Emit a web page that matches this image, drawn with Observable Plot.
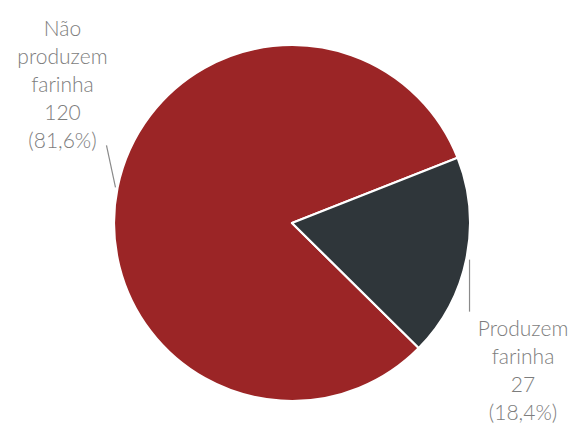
<!DOCTYPE html>
<html><head><meta charset="utf-8">
<script src="https://cdn.jsdelivr.net/npm/d3@7"></script>
<script src="https://cdn.jsdelivr.net/npm/@observablehq/plot@0.6"></script>
<style>
html,body{margin:0;padding:0;background:#fff;}
</style></head><body><div id="chart"></div>
<script>
// ---- data ----
const categories = ["Não produzem farinha", "Produzem farinha"];
const labelLines = [["Não", "produzem", "farinha"], ["Produzem", "farinha"]];
const counts = [120, 27];
const percentLabels = ["81,6%", "18,4%"];
const colors = ["#9b2526", "#2f363a"];

// ---- layout ----
const W = 579, H = 426;
const cx = 292, cy = 223, R = 178;
const startDeg = 134.6;
const fontSize = 21;
const layout = [
  {ldx: -9, ldy: -42, tdx: -53, tdy: -39, anchor: "bottom"},
  {ldx: 0, ldy: 52, tdx: 53.5, tdy: 56, anchor: "top"}
];

const arcs = d3.pie().sort(null)
  .startAngle(startDeg * Math.PI / 180)
  .endAngle((startDeg + 360) * Math.PI / 180)(counts);

const slices = categories.map((c, i) => {
  const mid = (arcs[i].startAngle + arcs[i].endAngle) / 2;
  const r0 = 1.015;
  const x1 = r0 * Math.sin(mid), y1 = r0 * Math.cos(mid);
  return {
    category: c, value: counts[i],
    start: arcs[i].startAngle, end: arcs[i].endAngle,
    x1, y1,
    x2: x1 + layout[i].ldx / R, y2: y1 - layout[i].ldy / R,
    label: [...labelLines[i], String(counts[i]), `(${percentLabels[i]})`].join("\n")
  };
});

function wedges(index, scales) {
  const g = d3.create("svg:g");
  const x0 = scales.x(0), y0 = scales.y(0), r = scales.x(1) - scales.x(0);
  const arc = d3.arc().innerRadius(0).outerRadius(r);
  g.selectAll("path").data(slices).join("path")
    .attr("transform", `translate(${x0},${y0})`)
    .attr("d", d => arc({startAngle: d.start, endAngle: d.end}))
    .attr("fill", (d, i) => colors[i])
    .attr("stroke", "#fff")
    .attr("stroke-width", 2.2)
    .attr("stroke-linejoin", "round");
  return g.node();
}

const textMarks = slices.map((s, i) => Plot.text([s], {
  x: "x1", y: "y1", text: "label",
  dx: layout[i].tdx, dy: layout[i].tdy,
  lineAnchor: layout[i].anchor, textAnchor: "middle",
  lineHeight: 28 / fontSize, fontSize, fontFamily: "Lato", fontWeight: 300,
  fill: "#7d7d7d"
}));

const chart = Plot.plot({
  width: W, height: H,
  marginLeft: cx - R, marginRight: W - cx - R,
  marginTop: cy - R, marginBottom: H - cy - R,
  x: {domain: [-1, 1], axis: null},
  y: {domain: [-1, 1], axis: null},
  style: {background: "#fff"},
  marks: [
    wedges,
    Plot.link(slices, {x1: "x1", y1: "y1", x2: "x2", y2: "y2", stroke: "#8a8a8a", strokeWidth: 1.2}),
    ...textMarks
  ]
});
document.getElementById("chart").appendChild(chart);
</script>
</body></html>
